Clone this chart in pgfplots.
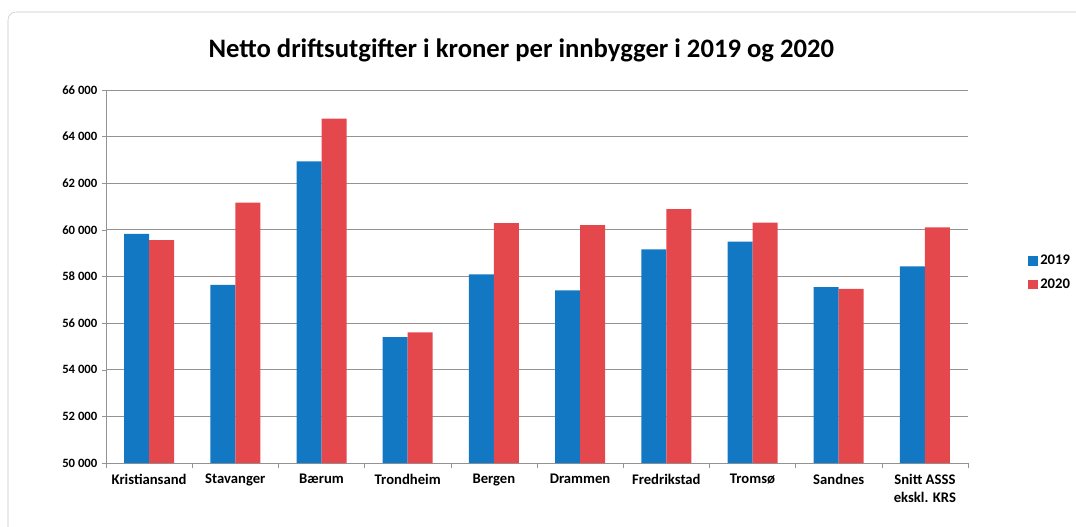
\documentclass[border=0pt]{standalone}
\usepackage{pgfplots}
\pgfplotsset{compat=1.18}
\usepackage{fontspec}
\setmainfont{Carlito}
\definecolor{blue19}{HTML}{1378C4}
\definecolor{red20}{HTML}{E5484C}
\definecolor{gridc}{HTML}{939393}

\pgfplotstableread{
idx y2019 y2020
0 59830 59560
1 57640 61170
2 62940 64770
3 55400 55600
4 58090 60290
5 57400 60200
6 59160 60890
7 59500 60310
8 57540 57470
9 58430 60110
}\netto

\begin{document}
\begin{tikzpicture}
\useasboundingbox (0,0) rectangle (807pt,394.5pt);
\draw[black!22,rounded corners=6pt] (6pt,-15pt) rectangle (830pt,385.5pt);
\node[font=\fontsize{20}{24}\selectfont\bfseries] at (391pt,357pt)
  {Netto driftsutgifter i kroner per innbygger i 2019 og 2020};
\begin{axis}[
  at={(79.5pt,47.25pt)},anchor=south west,
  width=646.5pt,height=279.75pt,scale only axis,
  ybar=0pt,bar width=18.75pt,
  xmin=-0.5,xmax=9.5,ymin=50000,ymax=66000,
  axis lines*=left,axis line style={gridc},
  ymajorgrids,grid style={gridc,line width=0.6pt},
  scaled y ticks=false,
  ytick={50000,52000,...,66000},
  yticklabels={50 000,52 000,54 000,56 000,58 000,60 000,62 000,64 000,66 000},
  yticklabel style={font=\fontsize{9.5}{11}\selectfont\bfseries},
  ytick style={gridc},tick align=outside,major tick length=3pt,
  xtick={0,...,9},
  xticklabels={Kristiansand,Stavanger,Bærum,Trondheim,Bergen,Drammen,Fredrikstad,Tromsø,Sandnes,{Snitt ASSS\\ekskl. KRS}},
  xticklabel style={font=\fontsize{11}{13}\selectfont\bfseries,align=center,anchor=north,yshift=-2pt},
  x tick style={draw=none},
  extra x ticks={-0.5,0.5,...,9.5},extra x tick labels={},
  extra x tick style={x tick style={gridc,draw=gridc},major tick length=4pt},
  legend style={at={(1.065,0.51)},anchor=west,draw=none,fill=none,
    font=\fontsize{11}{13}\selectfont\bfseries,row sep=5pt},
  legend cell align=left,
  legend image code/.code={\fill[#1] (0pt,-3.5pt) rectangle (7pt,3.5pt);},
]
\addplot[fill=blue19,draw=none] table[x=idx,y=y2019] {\netto};
\addplot[fill=red20,draw=none] table[x=idx,y=y2020] {\netto};
\legend{2019,2020}
\end{axis}
\end{tikzpicture}
\end{document}
